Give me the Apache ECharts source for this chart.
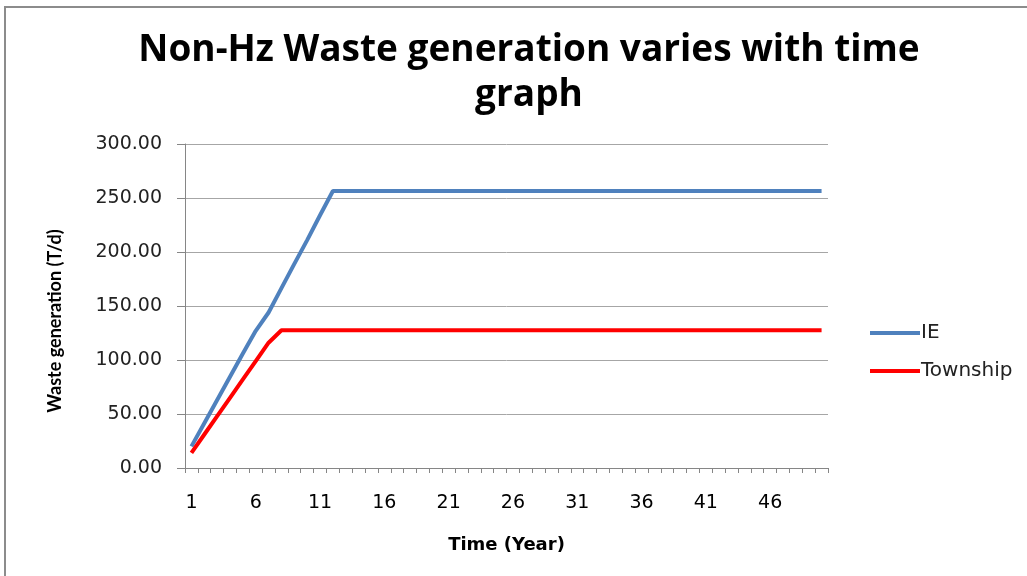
<!DOCTYPE html>
<html>
<head>
<meta charset="utf-8">
<title>Non-Hz Waste generation varies with time graph</title>
<script src="https://cdn.jsdelivr.net/npm/echarts@6/dist/echarts.min.js"></script>
<style>
  html, body { margin: 0; padding: 0; background: #ffffff; }
  #chart { width: 1027px; height: 576px; }
</style>
</head>
<body>
<div id="chart"></div>
<script>
// Years 1..50 on the category axis
const years = [
  1, 2, 3, 4, 5, 6, 7, 8, 9, 10,
  11, 12, 13, 14, 15, 16, 17, 18, 19, 20,
  21, 22, 23, 24, 25, 26, 27, 28, 29, 30,
  31, 32, 33, 34, 35, 36, 37, 38, 39, 40,
  41, 42, 43, 44, 45, 46, 47, 48, 49, 50
];

// Non-hazardous waste generation (T/d)
const ieValues = [
  20.0, 41.5, 63.0, 84.5, 106.0, 127.0, 144.0, 166.5, 189.0, 211.0,
  234.0, 256.5, 256.5, 256.5, 256.5, 256.5, 256.5, 256.5, 256.5, 256.5,
  256.5, 256.5, 256.5, 256.5, 256.5, 256.5, 256.5, 256.5, 256.5, 256.5,
  256.5, 256.5, 256.5, 256.5, 256.5, 256.5, 256.5, 256.5, 256.5, 256.5,
  256.5, 256.5, 256.5, 256.5, 256.5, 256.5, 256.5, 256.5, 256.5, 256.5
];
const townshipValues = [
  14.0, 31.0, 48.0, 65.0, 82.0, 99.0, 116.0, 127.5, 127.5, 127.5,
  127.5, 127.5, 127.5, 127.5, 127.5, 127.5, 127.5, 127.5, 127.5, 127.5,
  127.5, 127.5, 127.5, 127.5, 127.5, 127.5, 127.5, 127.5, 127.5, 127.5,
  127.5, 127.5, 127.5, 127.5, 127.5, 127.5, 127.5, 127.5, 127.5, 127.5,
  127.5, 127.5, 127.5, 127.5, 127.5, 127.5, 127.5, 127.5, 127.5, 127.5
];

const seriesNames = ['IE', 'Township'];
const seriesColors = ['#4f81bd', '#ff0000'];

const titleText = 'Non-Hz Waste generation varies with time\ngraph';
const xAxisTitle = 'Time (Year)';
const yAxisTitle = 'Waste generation (T/d)';

const axisGray = '#868686';
const gridGray = '#a6a6a6';

const chart = echarts.init(document.getElementById('chart'), null, { renderer: 'canvas' });

chart.setOption({
  backgroundColor: '#ffffff',
  animation: false,
  title: {
    text: titleText,
    left: 524,
    textAlign: 'center',
    top: 23,
    textStyle: {
      fontFamily: 'Open Sans',
      fontWeight: 'bold',
      fontSize: 37,
      lineHeight: 45,
      color: '#000000'
    }
  },
  graphic: [
    {
      type: 'rect',
      silent: true,
      shape: { x: 5, y: 7, width: 1040, height: 600 },
      style: { fill: 'none', stroke: '#8c8c8c', lineWidth: 2 }
    },
    {
      type: 'text',
      silent: true,
      x: 55,
      y: 321,
      rotation: Math.PI / 2,
      style: {
        text: yAxisTitle,
        fontFamily: 'Lato',
        fontWeight: 'bold',
        fontSize: 18,
        fill: '#000000',
        align: 'center',
        verticalAlign: 'middle'
      }
    }
  ],
  legend: {
    orient: 'vertical',
    left: 865,
    top: 318,
    icon: 'rect',
    itemWidth: 50,
    itemHeight: 4,
    itemGap: 18,
    data: seriesNames,
    textStyle: {
      fontFamily: 'DejaVu Sans',
      fontSize: 20,
      color: '#222222',
      padding: [0, 0, 0, -4]
    }
  },
  grid: {
    left: 185,
    right: 199,
    top: 144,
    bottom: 108
  },
  xAxis: {
    type: 'category',
    data: years,
    boundaryGap: true,
    name: xAxisTitle,
    nameLocation: 'middle',
    nameGap: 68,
    nameTextStyle: {
      fontFamily: 'DejaVu Sans',
      fontWeight: 'bold',
      fontSize: 18,
      color: '#000000'
    },
    axisLine: { lineStyle: { color: axisGray, width: 1 } },
    axisTick: {
      show: true,
      interval: 0,
      alignWithLabel: false,
      length: 5,
      lineStyle: { color: axisGray }
    },
    axisLabel: {
      interval: 4,
      margin: 26,
      fontFamily: 'DejaVu Sans',
      fontSize: 19,
      color: '#000000'
    },
    splitLine: { show: false }
  },
  yAxis: {
    type: 'value',
    min: 0,
    max: 300,
    interval: 50,
    axisLine: { show: true, lineStyle: { color: axisGray, width: 1 } },
    axisTick: { show: true, length: 8, lineStyle: { color: axisGray } },
    axisLabel: {
      margin: 23,
      fontFamily: 'DejaVu Sans',
      fontSize: 19,
      color: '#222222',
      formatter: function (v) { return v.toFixed(2); }
    },
    splitLine: { show: true, lineStyle: { color: gridGray, width: 1 } }
  },
  series: [
    {
      name: seriesNames[0],
      type: 'line',
      data: ieValues,
      symbol: 'none',
      color: seriesColors[0],
      lineStyle: { width: 4, color: seriesColors[0] }
    },
    {
      name: seriesNames[1],
      type: 'line',
      data: townshipValues,
      symbol: 'none',
      color: seriesColors[1],
      lineStyle: { width: 4, color: seriesColors[1] }
    }
  ]
});
</script>
</body>
</html>
